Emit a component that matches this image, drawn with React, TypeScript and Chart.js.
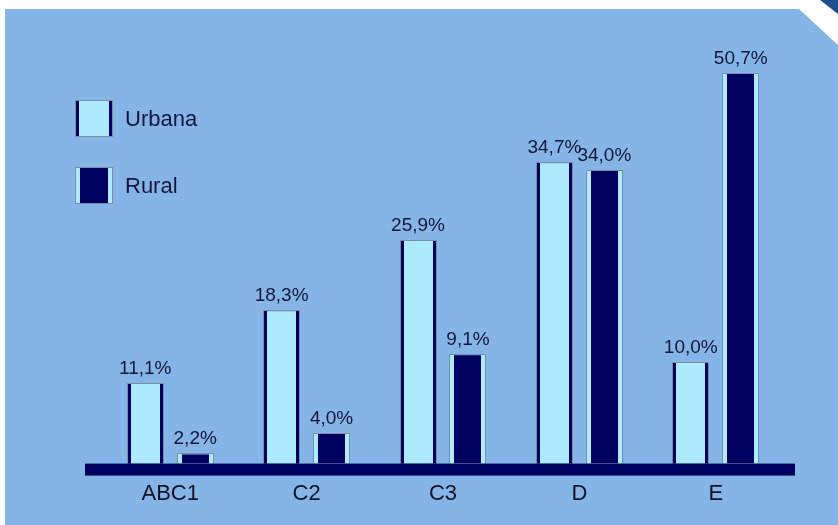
import React, { useEffect, useRef } from "react";
import { Chart, registerables } from "chart.js";

Chart.register(...registerables);

const categories = ["ABC1", "C2", "C3", "D", "E"];
const seriesNames = ["Urbana", "Rural"];
// bar heights as drawn in the picture (percentage units)
const urbanaHeights = [10.4, 19.8, 29.0, 39.1, 13.1];
const ruralHeights = [1.2, 3.9, 14.1, 38.1, 50.7];
// printed value labels
const urbanaLabels = ["11,1%", "18,3%", "25,9%", "34,7%", "10,0%"];
const ruralLabels = ["2,2%", "4,0%", "9,1%", "34,0%", "50,7%"];

const NAVY = "#000060";
const LIGHT = "#aeeaff";
const PANEL = "#84b5e6";
const OUTLINE = "#7d8ea3";
const TEXT = "#16163a";
const FONT = "'Liberation Sans', Arial, sans-serif";
const EDGE = [3, 4];

const backgroundPlugin = {
  id: "bgPanel",
  beforeDraw(chart: any) {
    const ctx = chart.ctx;
    const w = chart.width;
    const h = chart.height;
    ctx.save();
    ctx.fillStyle = "#ffffff";
    ctx.fillRect(0, 0, w, h);
    ctx.fillStyle = PANEL;
    ctx.beginPath();
    ctx.moveTo(5, 9);
    ctx.lineTo(799, 9);
    ctx.lineTo(w, 45);
    ctx.lineTo(w, h);
    ctx.lineTo(5, h);
    ctx.closePath();
    ctx.fill();
    ctx.fillStyle = "#1d4f8f";
    ctx.beginPath();
    ctx.moveTo(820, 0);
    ctx.lineTo(w, 0);
    ctx.lineTo(w, 14);
    ctx.closePath();
    ctx.fill();
    ctx.restore();
  },
};

const decorPlugin = {
  id: "decor",
  afterDatasetsDraw(chart: any) {
    const ctx = chart.ctx;
    const area = chart.chartArea;
    const labelSets = [urbanaLabels, ruralLabels];
    ctx.save();
    // side edges and outlines
    chart.data.datasets.forEach((ds: any, di: number) => {
      const meta = chart.getDatasetMeta(di);
      const e = EDGE[di];
      meta.data.forEach((el: any) => {
        const p = el.getProps(["x", "y", "base", "width"], true);
        const x0 = Math.round(p.x - p.width / 2);
        const w = Math.round(p.width);
        const y0 = Math.round(p.y);
        const hgt = p.base - y0;
        ctx.strokeStyle = OUTLINE;
        ctx.lineWidth = 1;
        ctx.strokeRect(x0 - 0.5, y0 - 0.5, w + 1, hgt + 1);
        ctx.fillStyle = ds.edgeColor;
        ctx.fillRect(x0, y0, e, hgt);
        ctx.fillRect(x0 + w - e, y0, e, hgt);
      });
    });
    // baseline
    ctx.fillStyle = NAVY;
    ctx.fillRect(area.left - 17, area.bottom, area.right - area.left + 28, 12);
    // value labels
    ctx.fillStyle = TEXT;
    ctx.font = `19px ${FONT}`;
    ctx.textAlign = "center";
    ctx.textBaseline = "alphabetic";
    chart.data.datasets.forEach((ds: any, di: number) => {
      const meta = chart.getDatasetMeta(di);
      meta.data.forEach((el: any, i: number) => {
        const p = el.getProps(["x", "y"], true);
        ctx.fillText(labelSets[di][i], p.x, p.y - 10);
      });
    });
    // legend
    chart.data.datasets.forEach((ds: any, di: number) => {
      const sx = 76;
      const sy = 101 + di * 67;
      const sw = 36;
      const sh = 35;
      const edge = EDGE[di];
      ctx.strokeStyle = OUTLINE;
      ctx.strokeRect(sx - 0.5, sy - 0.5, sw + 1, sh + 1);
      ctx.fillStyle = ds.edgeColor;
      ctx.fillRect(sx, sy, sw, sh);
      ctx.fillStyle = ds.backgroundColor;
      ctx.fillRect(sx + edge, sy, sw - 2 * edge, sh);
      ctx.fillStyle = TEXT;
      ctx.font = `22px ${FONT}`;
      ctx.textAlign = "left";
      ctx.textBaseline = "middle";
      ctx.fillText(ds.label, 125, sy + sh / 2 + 1);
    });
    ctx.restore();
  },
};

export default function App() {
  const ref = useRef<HTMLCanvasElement>(null);
  useEffect(() => {
    if (!ref.current) return;
    const chart = new Chart(ref.current, {
      type: "bar",
      data: {
        labels: categories,
        datasets: [
          {
            label: seriesNames[0],
            data: urbanaHeights,
            backgroundColor: LIGHT,
            edgeColor: NAVY,
            borderWidth: 0,
            inflateAmount: 0,
            categoryPercentage: 0.733,
            barPercentage: 0.7,
          } as any,
          {
            label: seriesNames[1],
            data: ruralHeights,
            backgroundColor: NAVY,
            edgeColor: LIGHT,
            borderWidth: 0,
            inflateAmount: 0,
            categoryPercentage: 0.733,
            barPercentage: 0.7,
          } as any,
        ],
      },
      options: {
        responsive: false,
        animation: false,
        layout: { padding: { left: 102, right: 54, top: 41, bottom: 1 } },
        plugins: { legend: { display: false }, tooltip: { enabled: false } },
        scales: {
          x: {
            grid: { display: false, drawTicks: false },
            border: { display: false },
            ticks: {
              color: "#111122",
              font: { family: FONT, size: 22 },
              padding: 17,
            },
          },
          y: { display: false, min: 0, max: 55 },
        },
      },
      plugins: [backgroundPlugin, decorPlugin],
    });
    return () => chart.destroy();
  }, []);
  return (
    <div style={{ position: "fixed", left: 0, top: 0, width: 838, height: 525 }}>
      <canvas ref={ref} width={838} height={525} style={{ width: 838, height: 525 }} />
    </div>
  );
}
